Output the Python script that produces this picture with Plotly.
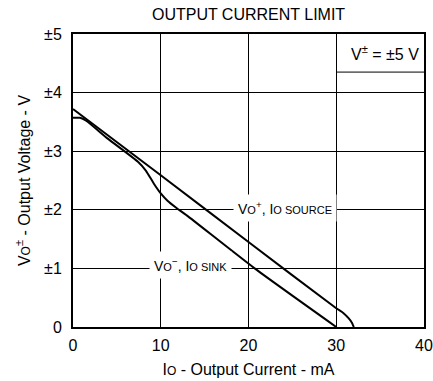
import plotly.graph_objects as go

# Data
source_i = [0, 10, 20, 30, 30.8, 31.4, 31.8, 32]
source_v = [3.72, 2.59, 1.45, 0.32, 0.24, 0.15, 0.07, 0]
sink_i = [0, 0.8, 1.5, 4, 7.4, 8.3, 9.2, 10, 10.8, 11.8, 13, 20.7, 30]
sink_v = [3.57, 3.57, 3.52, 3.21, 2.82, 2.67, 2.45, 2.28, 2.15, 2.03, 1.9, 1.0, 0]

x_ticks = [0, 10, 20, 30, 40]
x_tick_text = ["0", "10", "20", "30", "40"]
y_ticks = [0, 1, 2, 3, 4, 5]
y_tick_text = ["0", "±1", "±2", "±3", "±4", "±5"]

FONT = "Liberation Sans, Arial, sans-serif"
SM = "<span style='font-size:12px'>"
SM2 = "<span style='font-size:11px'>"

fig = go.Figure()
fig.add_trace(go.Scatter(x=source_i, y=source_v, mode="lines",
                         line=dict(color="black", width=2, shape="spline", smoothing=0.5),
                         showlegend=False, hoverinfo="skip"))
fig.add_trace(go.Scatter(x=sink_i, y=sink_v, mode="lines",
                         line=dict(color="black", width=2, shape="spline", smoothing=0.5),
                         showlegend=False, hoverinfo="skip"))

fig.update_layout(
    width=433, height=381,
    margin=dict(l=73, r=9, t=34, b=54, autoexpand=False),
    paper_bgcolor="white", plot_bgcolor="white",
    font=dict(family=FONT, color="black", size=16),
    title=dict(text="OUTPUT CURRENT LIMIT", x=0.574, xanchor="center",
               y=1 - 14 / 381, yanchor="middle", font=dict(size=16)),
    showlegend=False,
)
fig.update_xaxes(
    range=[0, 40], tickvals=x_ticks, ticktext=x_tick_text, automargin=False,
    showgrid=True, gridcolor="black", gridwidth=1,
    showline=True, linecolor="black", linewidth=2, mirror=True,
    zeroline=False, ticks="", ticklabelstandoff=3,
    title=dict(text="I" + SM + "O</span> - Output Current - mA", standoff=11,
               font=dict(size=16)),
)
fig.update_yaxes(
    range=[0, 5], tickvals=y_ticks, ticktext=y_tick_text, automargin=False,
    showgrid=True, gridcolor="black", gridwidth=1,
    showline=True, linecolor="black", linewidth=2, mirror=True,
    zeroline=False, ticks="", ticklabelstandoff=6,
    title=dict(text="V" + SM + "O</span><sup>±</sup> - Output Voltage - V", standoff=10,
               font=dict(size=16)),
)

# Supply-voltage box line
fig.add_shape(type="line", x0=30, x1=40, y0=4.35, y1=4.35, xref="x", yref="y",
              line=dict(color="black", width=1))

fig.add_annotation(x=35.6, y=4.68, xref="x", yref="y", showarrow=False,
                   text="V<sup>±</sup> = ±5 V", font=dict(size=16))
fig.add_annotation(x=24.2, y=2.03, xref="x", yref="y", showarrow=False,
                   text="V" + SM2 + "O</span><sup>+</sup>, I" + SM2 + "O SOURCE</span>",
                   font=dict(size=14), bgcolor="white", borderpad=4)
fig.add_annotation(x=13.35, y=1.05, xref="x", yref="y", showarrow=False,
                   text="V" + SM2 + "O</span><sup>−</sup>, I" + SM2 + "O SINK</span>",
                   font=dict(size=14), bgcolor="white", borderpad=4)

fig.write_html("out.html", config={"displayModeBar": False},
               post_script="document.body.style.margin='0';")
